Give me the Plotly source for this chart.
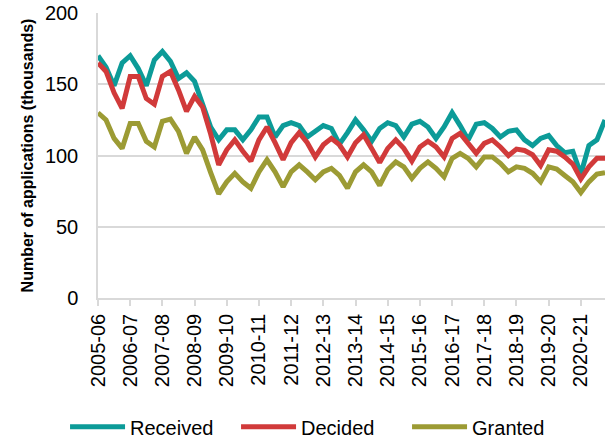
import plotly.graph_objects as go

years = ["2005-06", "2006-07", "2007-08", "2008-09", "2009-10", "2010-11", "2011-12",
         "2012-13", "2013-14", "2014-15", "2015-16", "2016-17", "2017-18", "2018-19",
         "2019-20", "2020-21"]
quarters = ["Q1", "Q2", "Q3", "Q4"]
categories = [f"{y} {q}" for y in years for q in quarters]

received = [170, 162, 149, 165, 170, 161, 149, 167, 173, 166, 154, 158, 152, 137, 120, 111,
            118, 118, 111, 118, 127, 127, 113, 121, 123, 121, 113, 117, 121, 119, 108, 116,
            125, 118, 110, 119, 123, 121, 113, 122, 124, 120, 112, 120, 130, 121, 111, 122,
            123, 119, 113, 117, 118, 111, 107, 112, 114, 107, 102, 103, 87, 107, 111, 125]
decided = [165, 159, 144, 133, 155.5, 155.5, 140, 136, 155.5, 159, 146, 131, 141.5, 134, 115, 93.5,
           104, 111, 103, 96, 111, 120, 109, 97, 109, 116, 109, 99, 107.5, 112, 107.5, 99,
           109, 114.5, 105, 95, 105, 111, 105, 96, 106, 110, 106, 99, 112, 115.5, 108.5, 101.5,
           108.5, 111, 106, 100, 104.5, 103.5, 100.5, 93, 104, 103, 99, 94, 83.5, 92, 98, 98]
granted = [130, 125, 112, 105, 122.5, 122.5, 110, 106, 124, 125.5, 117, 101.5, 113, 104, 88, 73,
           81.5, 87.5, 81.5, 77, 88.5, 97, 88.5, 78, 88.5, 93.5, 88.5, 83, 88.5, 91, 86, 77,
           88.5, 93.5, 88.5, 79, 90, 95.5, 92, 84, 91, 95.5, 91, 85, 98, 101.5, 98, 92,
           99, 99, 94.5, 88.5, 92, 91, 87.5, 81.5, 92, 90.5, 86, 81.5, 74, 81.5, 87, 88]

series = [("Received", received, "#0C9B98"),
          ("Decided", decided, "#D13A3A"),
          ("Granted", granted, "#9C9B34")]

fig = go.Figure()
for name, vals, color in series:
    fig.add_trace(go.Scatter(x=categories, y=vals, name=name, mode="lines",
                             line=dict(color=color, width=5)))

tick_cats = [f"{y} Q1" for y in years]

fig.update_layout(
    width=612, height=439,
    margin=dict(l=98, r=7, t=13, b=141, autoexpand=False),
    paper_bgcolor="white", plot_bgcolor="white",
    font=dict(family="Liberation Sans, Arial, sans-serif", color="#000000"),
    showlegend=True,
    legend=dict(orientation="h", x=-0.065, xanchor="left", y=-0.452, yanchor="middle",
                font=dict(size=20), entrywidth=101, itemwidth=55,
                bgcolor="rgba(0,0,0,0)"),
    xaxis=dict(type="category", categoryorder="array", categoryarray=categories,
               range=[0, len(categories) - 1], automargin=False,
               tickmode="array", tickvals=tick_cats, ticktext=years, tickangle=-90,
               tickfont=dict(size=20), ticks="outside", ticklen=6, tickcolor="#D9D9D9",
               tickwidth=1.5, showgrid=False, showline=True, linecolor="#D9D9D9",
               linewidth=1.5, zeroline=False),
    yaxis=dict(range=[0, 200], tickvals=[0, 50, 100, 150, 200], tickfont=dict(size=20),
               automargin=False,
               showgrid=True, gridcolor="#D9D9D9", gridwidth=1.5, showline=True,
               linecolor="#D9D9D9", linewidth=1.5, zeroline=False, ticks="",
               ticklabelstandoff=14,
               title=dict(text="<b>Number of applications (thousands)</b>",
                          font=dict(size=16), standoff=7)),
)

fig.write_html("out.html", config={"displayModeBar": False},
               post_script="document.body.style.margin='0';document.body.style.padding='0';")
